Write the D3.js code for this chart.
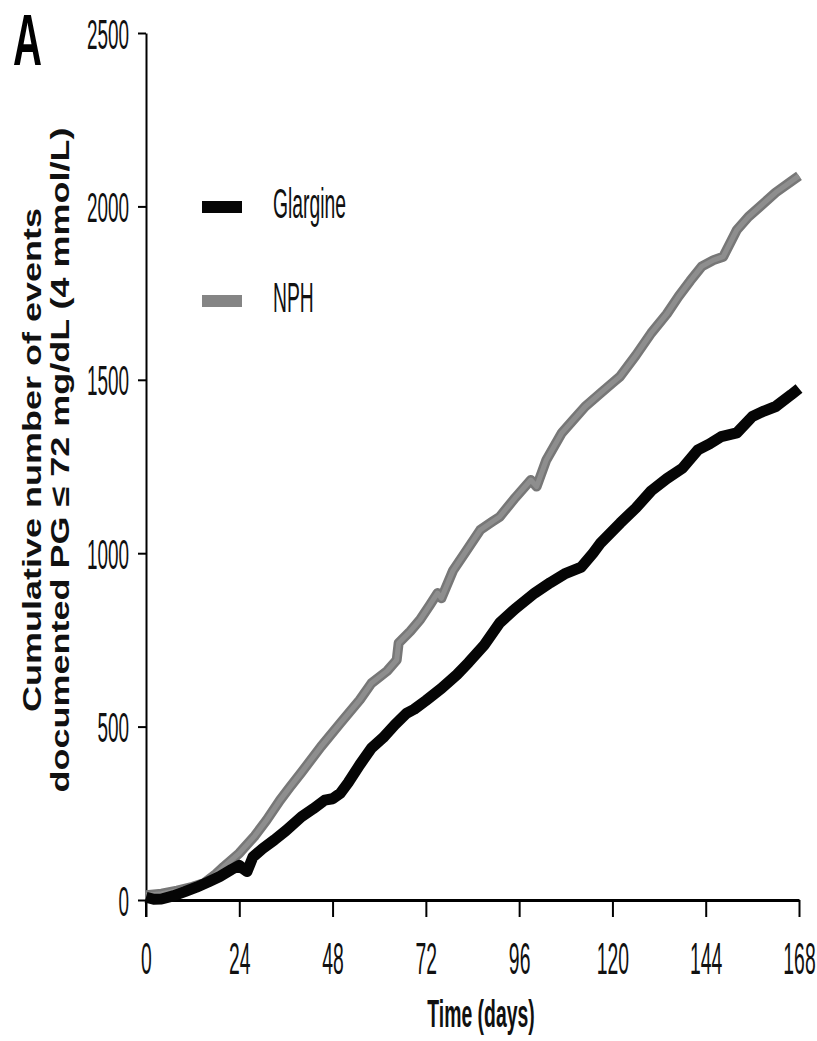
<!DOCTYPE html>
<html><head><meta charset="utf-8">
<script src="https://cdn.jsdelivr.net/npm/d3@7"></script>
<style>body{margin:0;background:#fff}</style>
</head><body>
<svg id="chart" width="817" height="1041"></svg>
<script>
const xTicks = [0, 24, 48, 72, 96, 120, 144, 168];
const yTicks = [0, 500, 1000, 1500, 2000, 2500];
const seriesNames = ["Glargine", "NPH"];
const glargineDays   = [0,2,4,7,10,13,16,19,22,24,25,26,27.5,30,33,36,40,43,46,48,50,52,55,58,61,64,67,69,72,76,80,83,87,91,95,100,104,108,112,115,117,122,126,130,134,138,142,145,148,152,156,159,162,166,168];
const glargineEvents = [8,2,3,12,24,37,52,68,88,100,90,82,124,148,173,200,240,263,288,292,308,338,390,438,468,505,538,550,575,610,650,685,735,799,840,885,915,942,960,1000,1030,1087,1130,1180,1215,1245,1298,1315,1336,1347,1394,1410,1423,1457,1475];
const nphDays   = [0,4,8,12,15,18,20,24,28,31,34.5,37,40,45,50,55,58,62,64.5,65,68,70.5,73,75,76,79,82,86,89,91,95,99,100.5,103,107,110,113,117,120,122,126,130,134,137,140,143,146,148.5,152,155,159,162,166,168];
const nphEvents = [14,18,27,38,49,75,96,135,185,230,288,325,368,442,510,577,625,660,692,741,775,808,850,885,870,950,1000,1067,1090,1105,1160,1211,1192,1269,1347,1385,1423,1462,1491,1510,1570,1635,1690,1740,1785,1827,1845,1855,1932,1970,2010,2040,2072,2088];

const svg = d3.select("#chart");
const x = d3.scaleLinear().domain([0, 168]).range([146, 799]);
const y = d3.scaleLinear().domain([0, 2500]).range([900, 33]);
const SX = 0.44;
const FONT = "'Liberation Sans', Arial, sans-serif";

// X axis
const gx = svg.append("g").attr("transform", "translate(0,900)")
  .call(d3.axisBottom(x).tickValues(xTicks).tickSize(17).tickSizeOuter(0).tickFormat(d3.format("d")));
gx.select(".domain").attr("stroke", "#000").attr("stroke-width", 3);
gx.selectAll(".tick line").attr("stroke", "#000").attr("stroke-width", 2);
gx.selectAll(".tick text").attr("y", 74).attr("dy", 0)
  .attr("font-family", FONT).attr("font-size", 44).attr("fill", "#111")
  .attr("transform", `scale(${SX},1)`);

// Y axis
const gy = svg.append("g").attr("transform", "translate(146,0)")
  .call(d3.axisLeft(y).tickValues(yTicks).tickSize(8).tickSizeOuter(0).tickFormat(d3.format("d")));
gy.select(".domain").attr("stroke", "#000").attr("stroke-width", 2);
gy.selectAll(".tick line").attr("stroke", "#000").attr("stroke-width", 2);
gy.selectAll(".tick text").attr("x", -17 / SX).attr("y", 15).attr("dy", 0)
  .attr("font-family", FONT).attr("font-size", 43).attr("fill", "#111")
  .attr("transform", `scale(${SX},1)`);
svg.append("line").attr("x1", x(0)).attr("x2", x(0)).attr("y1", y(0)).attr("y2", y(0) + 17)
  .attr("stroke", "#000").attr("stroke-width", 2);

// Lines
const line = d3.line().x(d => x(d[0])).y(d => y(d[1]));
const nphData = nphDays.map((d, i) => [d, nphEvents[i]]);
const glaData = glargineDays.map((d, i) => [d, glargineEvents[i]]);

svg.append("path").datum(nphData).attr("d", line).attr("fill", "none")
  .attr("stroke", "#777").attr("stroke-width", 10).attr("stroke-linejoin", "round");
svg.append("path").datum(nphData).attr("d", line).attr("fill", "none")
  .attr("stroke", "#8e8e8e").attr("stroke-width", 5).attr("stroke-linejoin", "round");
svg.append("path").datum(glaData).attr("d", line).attr("fill", "none")
  .attr("stroke", "#050505").attr("stroke-width", 11).attr("stroke-linejoin", "round");

// Legend
const legendY = [207, 301];
const legendColors = ["#050505", "#858585"];
seriesNames.forEach((name, i) => {
  svg.append("rect").attr("x", 202).attr("y", legendY[i] - 6).attr("width", 40).attr("height", 12)
    .attr("fill", legendColors[i]);
  svg.append("g").attr("transform", `translate(273,${legendY[i] + 11}) scale(0.46,1)`)
    .append("text").attr("font-family", FONT).attr("font-size", 42).attr("fill", "#111").text(name);
});

// Axis titles
svg.append("g").attr("transform", `translate(481,1027) scale(0.51,1)`)
  .append("text").attr("text-anchor", "middle").attr("font-family", FONT)
  .attr("font-weight", "bold").attr("font-size", 38).attr("fill", "#111").text("Time (days)");

const yTitle = ["Cumulative number of events", "documented PG \u2264 72 mg/dL (4 mmol/L)"];
const yTitleX = [41, 69];
yTitle.forEach((t, i) => {
  svg.append("g").attr("transform", `translate(${yTitleX[i]},460) rotate(-90) scale(1,0.74)`)
    .append("text").attr("text-anchor", "middle").attr("font-family", FONT)
    .attr("font-weight", "bold").attr("font-size", 36).attr("fill", "#111").text(t);
});

// Panel letter
svg.append("g").attr("transform", `translate(13,65) scale(0.55,1)`)
  .append("text").attr("font-family", FONT).attr("font-weight", "bold")
  .attr("font-size", 73).attr("fill", "#000").text("A");
</script>
</body></html>
